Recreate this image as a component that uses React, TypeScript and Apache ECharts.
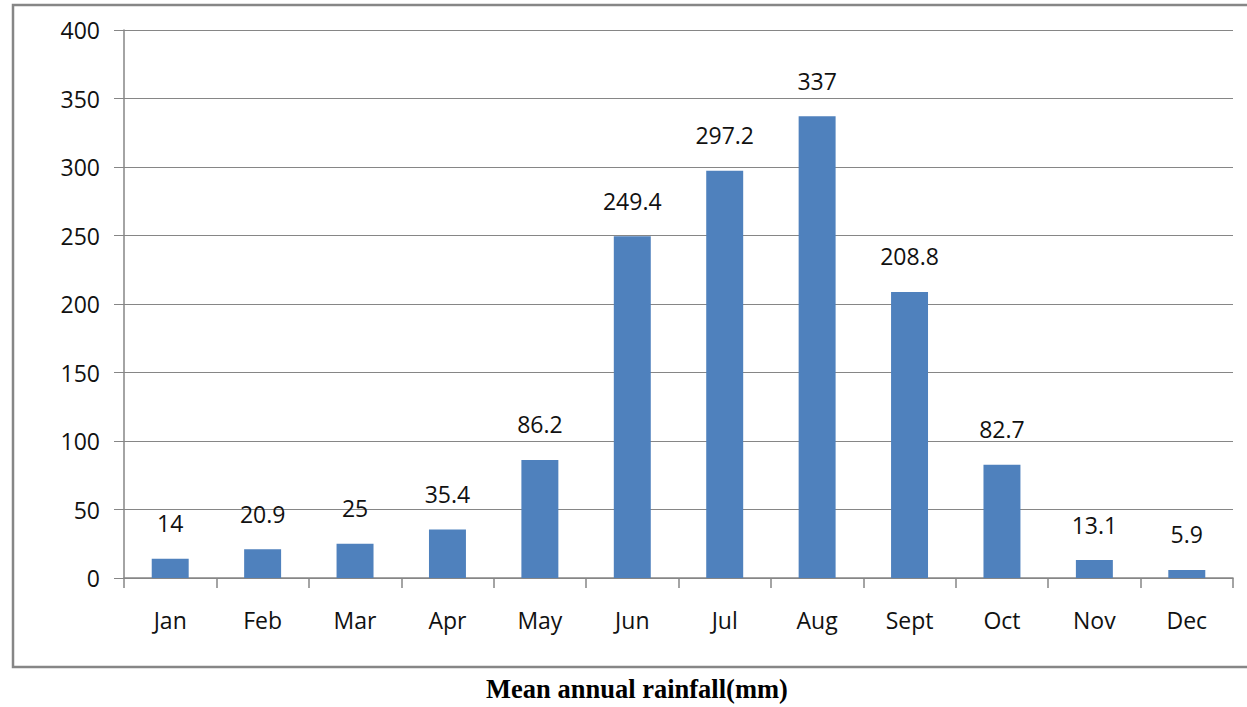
import React, { useEffect, useRef } from "react";
import * as echarts from "echarts";

const months = ["Jan", "Feb", "Mar", "Apr", "May", "Jun", "Jul", "Aug", "Sept", "Oct", "Nov", "Dec"];
const rainfall = [14, 20.9, 25, 35.4, 86.2, 249.4, 297.2, 337, 208.8, 82.7, 13.1, 5.9];
const yMin = 0;
const yMax = 400;
const yStep = 50;
const title = "Mean annual rainfall(mm)";

const FONT = "'Open Sans', 'Noto Sans', sans-serif";

export default function App() {
  const ref = useRef<HTMLDivElement>(null);
  useEffect(() => {
    if (!ref.current) return;
    const chart = echarts.init(ref.current, undefined, { renderer: "svg" });
    chart.setOption({
      animation: false,
      backgroundColor: "#ffffff",
      grid: { left: 124, right: 14, top: 30, bottom: 129, containLabel: false },
      graphic: [
        {
          type: "rect",
          shape: { x: 13, y: 5, width: 1245, height: 662 },
          style: { fill: "none", stroke: "#868686", lineWidth: 2.5 },
          z: -1,
        },
        {
          type: "text",
          x: 637,
          y: 689,
          style: {
            text: title,
            font: "bold 26.5px 'Liberation Serif', 'Times New Roman', serif",
            fill: "#000",
            align: "center",
            verticalAlign: "middle",
          },
        },
      ],
      xAxis: {
        type: "category",
        data: months,
        boundaryGap: true,
        axisLine: { show: true, lineStyle: { color: "#868686", width: 1.5 } },
        axisTick: { show: true, length: 10, alignWithLabel: false, lineStyle: { color: "#868686", width: 1.5 } },
        axisLabel: { color: "#111", fontFamily: FONT, fontSize: 23, margin: 30 },
        splitLine: { show: false },
      },
      yAxis: {
        type: "value",
        min: yMin,
        max: yMax,
        interval: yStep,
        axisLine: { show: true, lineStyle: { color: "#868686", width: 1.5 } },
        axisTick: { show: true, length: 10, lineStyle: { color: "#868686", width: 1 } },
        axisLabel: { color: "#111", fontFamily: FONT, fontSize: 23, margin: 24 },
        splitLine: { show: true, lineStyle: { color: "#868686", width: 1 } },
      },
      series: [
        {
          type: "bar",
          data: rainfall,
          barWidth: "40%",
          itemStyle: { color: "#4F81BD" },
          label: {
            show: true,
            position: "top",
            distance: 24,
            color: "#111",
            fontFamily: FONT,
            fontSize: 23,
          },
        },
      ],
    });
    return () => chart.dispose();
  }, []);
  return (
    <div
      ref={ref}
      style={{ position: "fixed", left: 0, top: 0, width: 1247, height: 707, background: "#fff" }}
    />
  );
}
